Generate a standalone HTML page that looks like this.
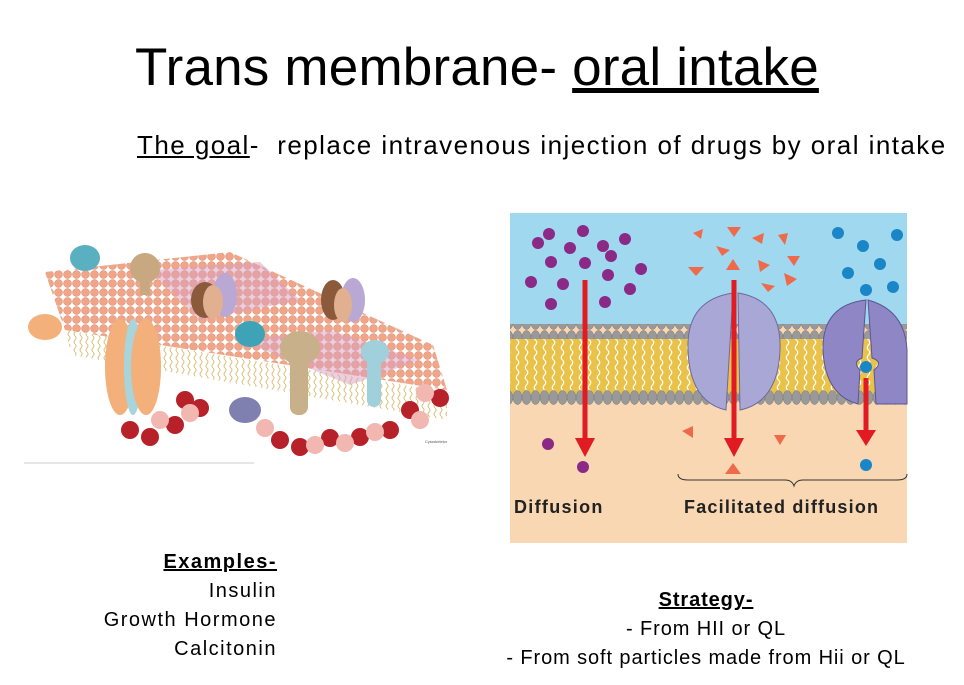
<!DOCTYPE html>
<html><head><meta charset="utf-8"><style>
body{margin:0;width:964px;height:685px;background:#fff;position:relative;overflow:hidden;font-family:"Liberation Sans",Calibri,sans-serif;}
.t{position:absolute;white-space:nowrap;color:#000;}
</style></head><body>
<div class="t" style="left:135px;top:37px;font-size:53px;letter-spacing:0.2px;">Trans membrane- <u>oral intake</u></div>
<div class="t" style="left:137px;top:130px;font-size:26px;letter-spacing:1.45px;"><u>The goal</u>-&nbsp; replace intravenous injection of drugs by oral intake</div>

<svg style="position:absolute;left:0;top:0" width="964" height="685">
<defs>
<pattern id="lip" width="9" height="9" patternUnits="userSpaceOnUse"><circle cx="4.5" cy="4.5" r="4" fill="#f0a588" stroke="#d98a6e" stroke-width="0.5"/></pattern>
<pattern id="tail" width="6" height="8" patternUnits="userSpaceOnUse"><path d="M3 0 q2 2 0 4 q-2 2 0 4" stroke="#d9c07a" fill="none"/></pattern>
<pattern id="head" width="9" height="15" patternUnits="userSpaceOnUse"><ellipse cx="4.5" cy="7.5" rx="4.5" ry="7" fill="#999" stroke="#777" stroke-width="0.5"/></pattern>
<pattern id="ytail" width="9" height="10" patternUnits="userSpaceOnUse"><rect width="9" height="10" fill="#e9c24a"/><path d="M4.5 0 q2.5 2.5 0 5 q-2.5 2.5 0 5" stroke="#fff" fill="none" stroke-width="1.2"/></pattern>
</defs>
<!-- left membrane -->
<polygon points="65,330 447,392 447,420 72,355" fill="url(#tail)"/>
<polygon points="45,272 230,252 433,345 447,390 65,330" fill="url(#lip)"/>
<polygon points="150,270 260,262 300,300 200,320" fill="#d9a0c0" opacity="0.5"/>
<polygon points="240,340 330,330 420,360 350,385" fill="#d9a0c0" opacity="0.5"/>
<g fill="#b7212a"><circle cx="130" cy="430" r="9"/><circle cx="150" cy="437" r="9"/><circle cx="175" cy="425" r="9"/><circle cx="200" cy="408" r="9"/><circle cx="185" cy="400" r="9"/><circle cx="280" cy="440" r="9"/><circle cx="300" cy="447" r="9"/><circle cx="330" cy="438" r="9"/><circle cx="360" cy="437" r="9"/><circle cx="390" cy="430" r="9"/><circle cx="410" cy="410" r="9"/><circle cx="440" cy="398" r="9"/></g>
<g fill="#f2b7b0"><circle cx="160" cy="420" r="9"/><circle cx="190" cy="413" r="9"/><circle cx="265" cy="428" r="9"/><circle cx="315" cy="445" r="9"/><circle cx="345" cy="443" r="9"/><circle cx="375" cy="432" r="9"/><circle cx="420" cy="420" r="9"/><circle cx="425" cy="393" r="9"/></g>
<ellipse cx="120" cy="367" rx="15" ry="48" fill="#f3b07a"/><ellipse cx="133" cy="367" rx="9" ry="48" fill="#a8d4dc"/><ellipse cx="146" cy="367" rx="15" ry="48" fill="#f3b07a"/>
<ellipse cx="45" cy="327" rx="17" ry="13" fill="#f3b07a"/>
<ellipse cx="85" cy="258" rx="15" ry="13" fill="#5ab0c0"/>
<ellipse cx="145" cy="268" rx="15" ry="15" fill="#c8a880"/><rect x="140" y="275" width="10" height="20" fill="#c8a880"/>
<ellipse cx="205" cy="300" rx="14" ry="18" fill="#8a5a3a"/><ellipse cx="225" cy="295" rx="12" ry="22" fill="#b9a7d4"/><ellipse cx="213" cy="302" rx="10" ry="17" fill="#e0b090"/>
<ellipse cx="333" cy="300" rx="12" ry="20" fill="#8a5a3a"/><ellipse cx="353" cy="300" rx="12" ry="22" fill="#b9a7d4"/><ellipse cx="343" cy="305" rx="9" ry="17" fill="#e0b090"/>
<ellipse cx="250" cy="334" rx="15" ry="13" fill="#3fa3b8"/>
<ellipse cx="300" cy="348" rx="20" ry="17" fill="#c8b08a"/><rect x="290" y="350" width="18" height="65" rx="8" fill="#c8b08a"/>
<ellipse cx="375" cy="352" rx="14" ry="12" fill="#9fd0dc"/><rect x="367" y="352" width="14" height="55" rx="7" fill="#9fd0dc"/>
<ellipse cx="245" cy="410" rx="16" ry="13" fill="#7f7fb0"/>
<text x="425" y="443" font-size="4" fill="#555" font-family="Liberation Sans">Cytoskeletor</text>
<line x1="24" y1="463" x2="254" y2="463" stroke="#ccc"/>

<!-- right diagram -->
<rect x="510" y="213" width="397" height="330" fill="#f9d7b2"/>
<rect x="510" y="213" width="397" height="112" fill="#9fd8ef"/>
<rect x="510" y="336" width="397" height="58" fill="url(#ytail)"/>
<rect x="510" y="324" width="397" height="15" fill="url(#head)"/>
<rect x="510" y="390" width="397" height="15" fill="url(#head)"/>
<path d="M733 293 Q686 300 688 350 Q690 402 726 410 Z M738 293 Q782 300 780 350 Q778 402 740 410 Z" fill="#a9a7d6" stroke="#6e6aa0"/>
<path d="M866 300 Q822 305 823 350 Q825 395 858 404 L860 370 Q852 362 862 358 L866 300Z M868 300 Q905 310 907 350 L907 404 L876 404 L874 370 Q884 362 872 358Z" fill="#8f86c6" stroke="#5d5590"/>
<g fill="#8b2a86"><circle cx="549" cy="234" r="6"/><circle cx="583" cy="231" r="6"/><circle cx="538" cy="243" r="6"/><circle cx="570" cy="248" r="6"/><circle cx="603" cy="246" r="6"/><circle cx="625" cy="239" r="6"/><circle cx="551" cy="262" r="6"/><circle cx="585" cy="263" r="6"/><circle cx="611" cy="256" r="6"/><circle cx="641" cy="269" r="6"/><circle cx="531" cy="282" r="6"/><circle cx="563" cy="284" r="6"/><circle cx="608" cy="275" r="6"/><circle cx="630" cy="289" r="6"/><circle cx="551" cy="304" r="6"/><circle cx="605" cy="302" r="6"/><circle cx="548" cy="444" r="6"/><circle cx="583" cy="467" r="6"/></g>
<g fill="#1a86c8"><circle cx="838" cy="233" r="6"/><circle cx="897" cy="235" r="6"/><circle cx="863" cy="246" r="6"/><circle cx="880" cy="264" r="6"/><circle cx="848" cy="273" r="6"/><circle cx="866" cy="290" r="6"/><circle cx="893" cy="287" r="6"/><circle cx="866" cy="367" r="6"/><circle cx="866" cy="465" r="6"/></g>
<g fill="#ee6a4a"><polygon points="693,233 703,229 701,239"/><polygon points="727,227 741,227 734,237"/><polygon points="752,238 764,233 762,244"/><polygon points="778,235 788,233 785,245"/><polygon points="716,246 730,250 722,256"/><polygon points="688,267 704,267 696,276"/><polygon points="726,270 740,270 733,259"/><polygon points="758,260 770,265 760,272"/><polygon points="787,256 800,256 794,266"/><polygon points="784,273 797,279 787,286"/><polygon points="761,283 775,286 768,292"/><polygon points="682,431 693,426 693,438"/><polygon points="774,435 786,435 780,445"/><polygon points="725,474 741,474 733,463"/></g>
<g stroke="#e01b22" stroke-width="5"><line x1="585" y1="280" x2="585" y2="440"/><line x1="734" y1="280" x2="734" y2="440"/><line x1="866" y1="378" x2="866" y2="432"/></g>
<g fill="#e01b22"><polygon points="575,438 595,438 585,457"/><polygon points="724,438 744,438 734,457"/><polygon points="856,430 876,430 866,446"/></g>
<path d="M678 474 q0 6 10 6 L785 480 q7 0 9 6 q2 -6 9 -6 L897 480 q10 0 10 -6" fill="none" stroke="#333"/>
<text x="514" y="513" font-size="18" font-weight="bold" fill="#222" letter-spacing="1.3" font-family="Liberation Sans">Diffusion</text>
<text x="684" y="513" font-size="18" font-weight="bold" fill="#222" letter-spacing="1.2" font-family="Liberation Sans">Facilitated diffusion</text>
</svg>

<div class="t" style="left:0;width:277px;top:548px;font-size:20px;letter-spacing:1.5px;text-align:right;line-height:29px;"><b><u>Examples-</u></b><br>Insulin<br>Growth Hormone<br>Calcitonin</div>
<div class="t" style="left:490px;width:432px;top:586px;font-size:20px;letter-spacing:0.9px;text-align:center;line-height:29px;"><b><u>Strategy-</u></b><br>- From HII or QL<br>- From soft particles made from Hii or QL</div>
</body></html>
